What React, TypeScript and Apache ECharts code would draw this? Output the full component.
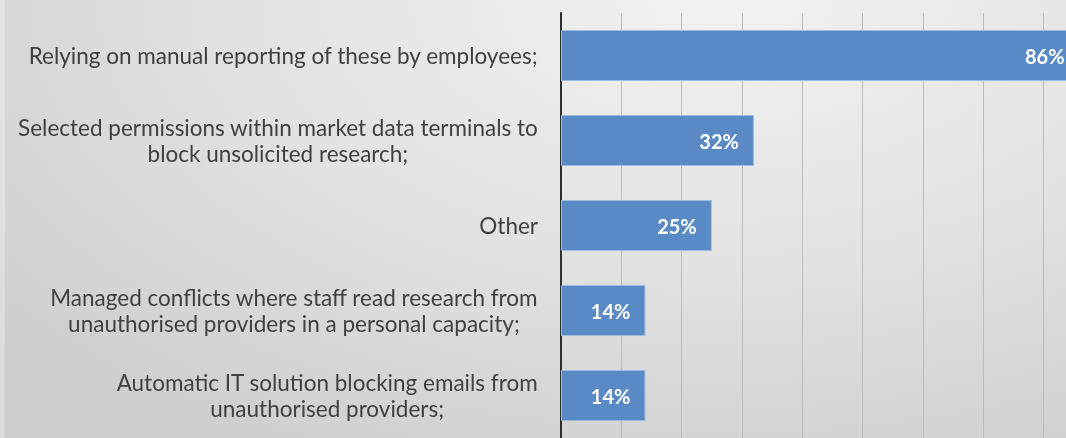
import React, { useEffect, useRef } from "react";
import * as echarts from "echarts";

const categories: string[] = [
  "Relying on manual reporting of these by employees;",
  "Selected permissions within market data terminals to\nblock unsolicited research;",
  "Other",
  "Managed conflicts where staff read research from\nunauthorised providers in a personal capacity;",
  "Automatic IT solution blocking emails from\nunauthorised providers;",
];
const values: number[] = [86, 32, 25, 14, 14];

export default function App() {
  const ref = useRef<HTMLDivElement>(null);
  useEffect(() => {
    if (!ref.current) return;
    const chart = echarts.init(ref.current, undefined, { renderer: "svg" });
    chart.setOption({
      animation: false,
      backgroundColor: "transparent",
      grid: { left: 561, top: 13, width: 603, height: 432, containLabel: false },
      graphic: [
        {
          type: "rect",
          left: 0,
          top: 0,
          shape: { width: 5, height: 438 },
          style: { fill: "rgba(255,255,255,0.3)" },
          silent: true,
        },
      ],
      xAxis: {
        type: "value",
        min: 0,
        max: 100,
        interval: 10,
        axisLabel: { show: false },
        axisLine: { show: false },
        axisTick: { show: false },
        splitLine: { show: true, lineStyle: { color: "#bcbcbc", width: 1 } },
      },
      yAxis: {
        type: "category",
        data: categories,
        inverse: true,
        axisTick: { show: false },
        axisLine: { show: true, lineStyle: { color: "#2e2e2e", width: 2 } },
        axisLabel: {
          margin: 23,
          formatter: (v: string) =>
            v
              .split("\n")
              .map((l) => `{c|${l}}`)
              .join("\n"),
          rich: {
            c: {
              align: "center",
              fontFamily: "Lato",
              fontSize: 22.5,
              color: "#404040",
              lineHeight: 25.5,
            },
          },
        },
      },
      series: [
        {
          type: "bar",
          data: values,
          barWidth: 51,
          itemStyle: { color: "#5a8ac6", borderColor: "#9dbbe2", borderWidth: 1 },
          label: {
            show: true,
            position: "insideRight",
            distance: 15,
            formatter: "{c}%",
            color: "#ffffff",
            fontWeight: "bold",
            fontFamily: "Lato",
            fontSize: 20,
          },
        },
      ],
    });
    return () => chart.dispose();
  }, []);
  return (
    <div
      style={{
        position: "fixed",
        left: 0,
        top: 0,
        width: 1066,
        height: 438,
        overflow: "hidden",
        background:
          "radial-gradient(ellipse 90% 120% at 68% 0%, #f2f2f2 0%, #e2e2e2 50%, #cdcdcd 100%)",
      }}
    >
      <div ref={ref} style={{ width: 1170, height: 438 }} />
    </div>
  );
}
